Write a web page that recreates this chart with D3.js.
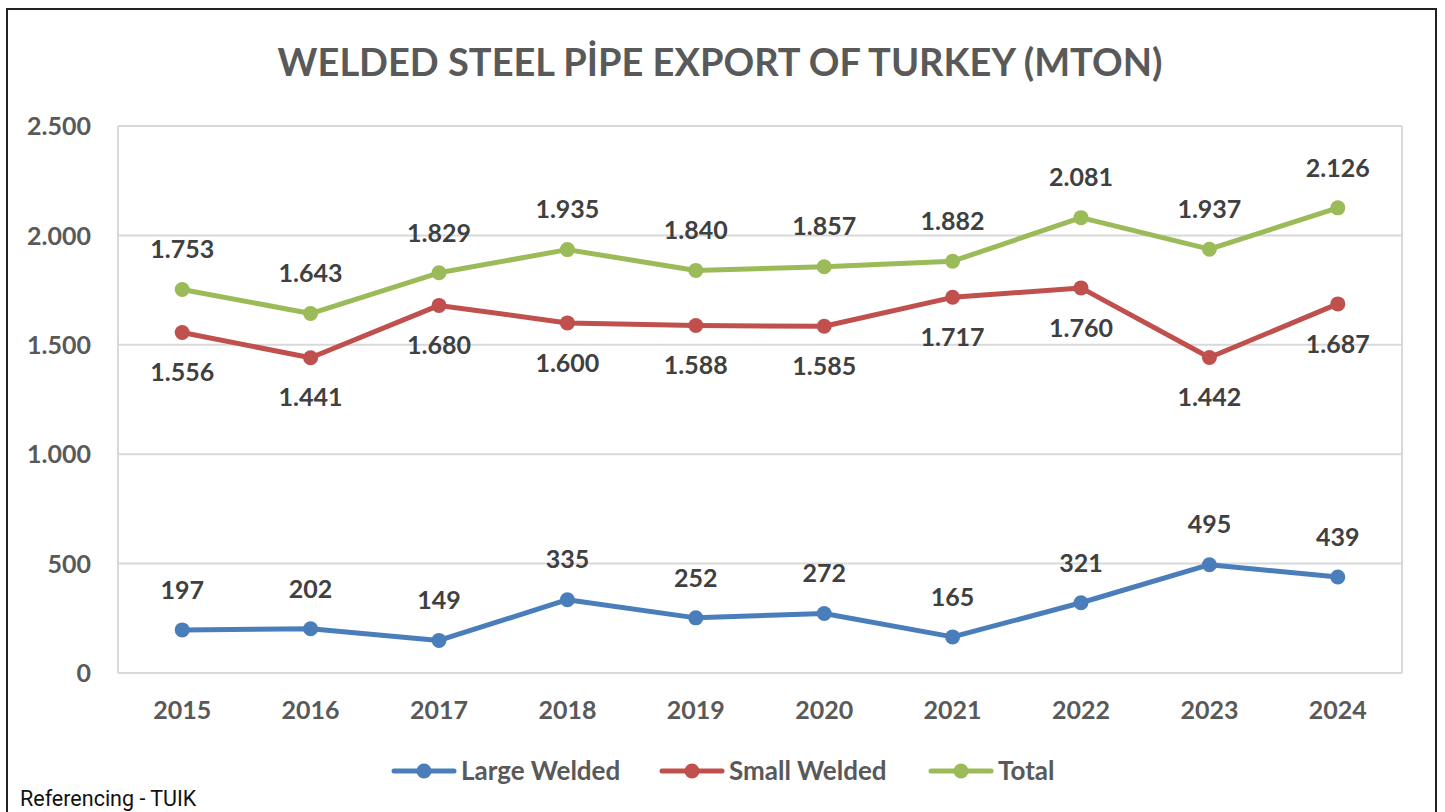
<!DOCTYPE html>
<html>
<head>
<meta charset="utf-8">
<script src="https://cdn.jsdelivr.net/npm/d3@7"></script>
<style>
  body { margin: 0; background: #fff; }
  svg { display: block; }
</style>
</head>
<body>
<div id="chart"></div>
<script>
var years = ["2015", "2016", "2017", "2018", "2019", "2020", "2021", "2022", "2023", "2024"];
var largeWelded = [197, 202, 149, 335, 252, 272, 165, 321, 495, 439];
var smallWelded = [1556, 1441, 1680, 1600, 1588, 1585, 1717, 1760, 1442, 1687];
var total = [1753, 1643, 1829, 1935, 1840, 1857, 1882, 2081, 1937, 2126];
var yTicks = [0, 500, 1000, 1500, 2000, 2500];
var seriesNames = ["Large Welded", "Small Welded", "Total"];
// label side per series: -1 above, 1 below
var labelSide = [-1, 1, -1];

var W = 1445, H = 812;
var font = "Lato, 'Open Sans', sans-serif";
var colors = ["#4a7ebb", "#c0504d", "#9bbb59"];

var svg = d3.select("#chart").append("svg").attr("width", W).attr("height", H);

// outer frame
svg.append("rect").attr("x", 7).attr("y", 9).attr("width", 1429).attr("height", 820)
    .style("fill", "none").style("stroke", "#222").style("stroke-width", 2);

var plot = {left: 118, top: 126, right: 1402, bottom: 673};

var x = d3.scaleBand().domain(years).range([plot.left, plot.right]);
var y = d3.scaleLinear().domain([0, 2500]).range([plot.bottom, plot.top]);

// title
svg.append("text").attr("x", 720).attr("y", 76)
    .attr("text-anchor", "middle")
    .style("font-family", font).style("font-weight", "bold").style("font-size", "38px")
    .style("fill", "#595959")
    .text("WELDED STEEL PİPE EXPORT OF TURKEY (MTON)");

// gridlines
var grid = svg.append("g").attr("class", "grid");
grid.selectAll("line").data(yTicks).enter().append("line")
    .attr("x1", plot.left).attr("x2", plot.right)
    .attr("y1", function (d) { return y(d); }).attr("y2", function (d) { return y(d); })
    .style("stroke", "#d9d9d9").style("stroke-width", 2);
grid.append("line").attr("x1", plot.left).attr("x2", plot.left)
    .attr("y1", plot.top).attr("y2", plot.bottom).style("stroke", "#d9d9d9").style("stroke-width", 2);
grid.append("line").attr("x1", plot.right).attr("x2", plot.right)
    .attr("y1", plot.top).attr("y2", plot.bottom).style("stroke", "#d9d9d9").style("stroke-width", 2);

// y axis
var yAxis = svg.append("g").attr("transform", "translate(" + 91 + ",0)")
    .call(d3.axisLeft(y).tickValues(yTicks).tickSize(0).tickPadding(0)
        .tickFormat(function (d) { return d3.format(",")(d).replace(/,/g, "."); }));
yAxis.select(".domain").remove();
yAxis.selectAll("text").style("font-family", font).style("font-weight", "bold")
    .style("font-size", "25px").style("fill", "#595959").attr("dy", "0.35em");

// x axis
var xAxis = svg.append("g").attr("transform", "translate(0," + 710 + ")")
    .call(d3.axisBottom(x).tickSize(0).tickPadding(0));
xAxis.select(".domain").remove();
xAxis.selectAll("text").style("font-family", font).style("font-weight", "bold")
    .style("font-size", "25px").style("fill", "#595959").attr("dy", "0.35em");

var cx = function (d, i) { return x(years[i]) + x.bandwidth() / 2; };
var allSeries = [largeWelded, smallWelded, total];

allSeries.forEach(function (vals, s) {
    var g = svg.append("g").attr("class", "series");
    var line = d3.line().x(cx).y(function (d) { return y(d); });
    g.append("path").datum(vals).attr("d", line)
        .style("fill", "none").style("stroke", colors[s]).style("stroke-width", 5)
        .style("stroke-linejoin", "round");
    g.selectAll("circle").data(vals).enter().append("circle")
        .attr("cx", cx).attr("cy", function (d) { return y(d); }).attr("r", 7.5)
        .style("fill", colors[s]);
    g.selectAll("text").data(vals).enter().append("text")
        .attr("x", cx).attr("y", function (d) { return y(d) + labelSide[s] * 40; })
        .attr("dy", "0.35em").attr("text-anchor", "middle")
        .style("font-family", font).style("font-weight", "bold").style("font-size", "25px")
        .style("fill", "#404040")
        .text(function (d) { return d3.format(",")(d).replace(/,/g, "."); });
});

// legend
var legendX = [392, 660, 929];
var legend = svg.append("g").attr("class", "legend");
var legendElts = legend.selectAll("g").data(seriesNames).enter().append("g")
    .attr("transform", function (d, i) { return "translate(" + legendX[i] + "," + 771 + ")"; });
legendElts.append("line").attr("x1", 2).attr("x2", 62).attr("y1", 0).attr("y2", 0)
    .style("stroke", function (d, i) { return colors[i]; }).style("stroke-width", 5)
    .style("stroke-linecap", "round");
legendElts.append("circle").attr("cx", 32).attr("cy", 0).attr("r", 7.5)
    .style("fill", function (d, i) { return colors[i]; });
legendElts.append("text").attr("x", 69).attr("dy", "0.35em")
    .style("font-family", font).style("font-weight", "bold").style("font-size", "26px")
    .style("fill", "#595959")
    .text(function (d) { return d; });

// source note
svg.append("text").attr("x", 20).attr("y", 806)
    .style("font-family", "Roboto, sans-serif").style("font-size", "21.5px").style("fill", "#111")
    .text("Referencing - TUIK");
</script>
</body>
</html>
